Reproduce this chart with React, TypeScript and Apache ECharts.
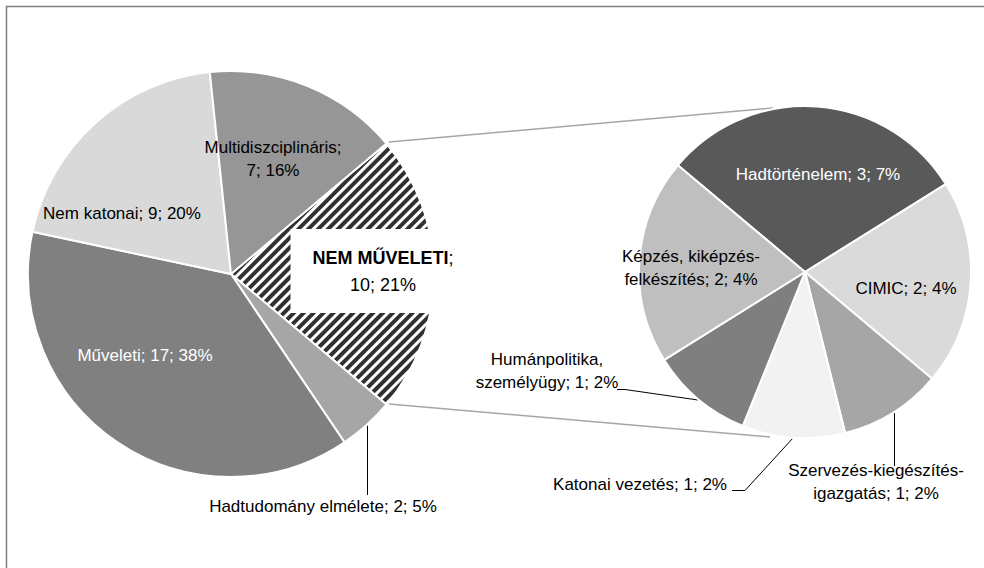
import React, { useEffect, useRef } from 'react';
import * as echarts from 'echarts';

// Main pie (clockwise from the split slice)
const mainNames = ['NEM MŰVELETI', 'Hadtudomány elmélete', 'Műveleti', 'Nem katonai', 'Multidiszciplináris'];
const mainValues = [10, 2, 17, 9, 7];
const mainPercents = [21, 5, 38, 20, 16];

// Secondary pie (breakdown of NEM MŰVELETI), clockwise from top
const subNames = [
  'Hadtörténelem',
  'CIMIC',
  'Szervezés-kiegészítés-\nigazgatás',
  'Katonai vezetés',
  'Humánpolitika,\nszemélyügy',
  'Képzés, kiképzés-\nfelkészítés',
];
const subValues = [3, 2, 1, 1, 1, 2];
const subPercents = [7, 4, 2, 2, 2, 4];

// styles
const mainColors = ['#ffffff', '#a6a6a6', '#808080', '#d9d9d9', '#969696'];
const subColors = ['#595959', '#dadada', '#a6a6a6', '#f2f2f2', '#7f7f7f', '#bfbfbf'];
const mainTextColors = ['#000', '#000', '#fff', '#000', '#000'];
const subTextColors = ['#fff', '#000', '#000', '#000', '#000', '#000'];
const mainOutside = [false, true, false, false, false];
const subOutside = [false, false, true, true, true, false];

const MAIN_C = [231, 274];
const MAIN_R = 203;
const SUB_C = [805, 272];
const SUB_R = 166;

const mainLabelPos = [[383, 271], [323, 506], [145, 355], [122, 213], [273, 159]];
const subLabelPos = [[818, 174], [906, 288], [876, 482], [640, 484], [547, 371], [691, 268]];
const mainLines: Record<number, number[][]> = {
  1: [[367.5, 425], [367.5, 460], [367.5, 495]],
};
const subLines: Record<number, number[][]> = {
  2: [[894.5, 413], [894.5, 440], [894.5, 466]],
  3: [[793, 438], [745, 490.5], [732, 490.5]],
  4: [[698, 400], [625, 389.5], [617, 389.5]],
};

const FONT = '"Liberation Sans", Arial, sans-serif';

export default function App() {
  const ref = useRef<HTMLDivElement>(null);
  useEffect(() => {
    if (!ref.current) return;
    const chart = echarts.init(ref.current, undefined, { renderer: 'svg' });

    const mainData = mainNames.map((n, i) => {
      const item: any = {
        name: n,
        value: mainValues[i],
        itemStyle: { color: mainColors[i] },
        label: {
          position: mainOutside[i] ? 'outside' : 'inside',
          color: mainTextColors[i],
        },
        labelLine: { show: mainOutside[i] },
      };
      if (i === 0) {
        item.itemStyle = {
          color: '#ffffff',
          decal: {
            symbol: 'rect',
            symbolSize: 1,
            color: '#303030',
            dashArrayX: [1, 0],
            dashArrayY: [3.4, 3],
            rotation: -Math.PI / 4,
          },
        };
        item.label = {
          position: 'inside',
          backgroundColor: '#ffffff',
          padding: [15, 22, 15, 22],
          formatter: `{b|${n}}{r|;}\n{r|${mainValues[i]}; ${mainPercents[i]}%}`,
          rich: {
            b: { fontFamily: FONT, fontSize: 18, fontWeight: 'bold', color: '#000', lineHeight: 27, align: 'center' },
            r: { fontFamily: FONT, fontSize: 18, color: '#000', lineHeight: 27, align: 'center' },
          },
        };
      }
      return item;
    });

    const subData = subNames.map((n, i) => ({
      name: n,
      value: subValues[i],
      itemStyle: { color: subColors[i] },
      label: {
        position: subOutside[i] ? 'outside' : 'inside',
        color: subTextColors[i],
      },
      labelLine: { show: subOutside[i] },
    }));

    const mainFmt = (p: any) => {
      const i = p.dataIndex;
      if (i === 4) return `${mainNames[i]};\n${mainValues[i]}; ${mainPercents[i]}%`;
      return `${mainNames[i]}; ${mainValues[i]}; ${mainPercents[i]}%`;
    };
    const subFmt = (p: any) => {
      const i = p.dataIndex;
      return `${subNames[i]}; ${subValues[i]}; ${subPercents[i]}%`;
    };

    const layout = (params: any) => {
      const s = params.seriesIndex;
      const i = params.dataIndex;
      const pos = s === 0 ? mainLabelPos[i] : subLabelPos[i];
      const lines = s === 0 ? mainLines[i] : subLines[i];
      const res: any = { x: pos[0], y: pos[1], align: 'center', verticalAlign: 'middle' };
      if (lines) res.labelLinePoints = lines;
      return res;
    };

    const baseLabel = {
      fontFamily: FONT,
      fontSize: 17,
      lineHeight: 23,
      align: 'center',
    };

    chart.setOption({
      animation: false,
      backgroundColor: '#ffffff',
      graphic: [
        {
          type: 'rect',
          shape: { x: 6.5, y: 6.5, width: 1200, height: 1200 },
          style: { fill: 'none', stroke: '#7f7f7f', lineWidth: 1.5 },
          silent: true,
        },
        {
          type: 'line',
          shape: { x1: 389, y1: 142, x2: 773, y2: 108 },
          style: { stroke: '#a5a5a5', lineWidth: 1.5 },
          silent: true,
        },
        {
          type: 'line',
          shape: { x1: 389, y1: 404, x2: 770, y2: 437 },
          style: { stroke: '#a5a5a5', lineWidth: 1.5 },
          silent: true,
        },
      ],
      series: [
        {
          type: 'pie',
          center: MAIN_C,
          radius: MAIN_R,
          startAngle: 40,
          clockwise: true,
          avoidLabelOverlap: false,
          data: mainData,
          itemStyle: { borderColor: '#ffffff', borderWidth: 2 },
          label: { ...baseLabel, formatter: mainFmt },
          labelLine: { lineStyle: { color: '#000000', width: 1, opacity: 1 }, length: 10, length2: 10 },
          labelLayout: layout,
          emphasis: { disabled: true },
        },
        {
          type: 'pie',
          center: SUB_C,
          radius: SUB_R,
          startAngle: 140,
          clockwise: true,
          avoidLabelOverlap: false,
          data: subData,
          itemStyle: { borderColor: '#ffffff', borderWidth: 2 },
          label: { ...baseLabel, formatter: subFmt },
          labelLine: { lineStyle: { color: '#000000', width: 1, opacity: 1 }, length: 10, length2: 10 },
          labelLayout: layout,
          emphasis: { disabled: true },
        },
      ],
    });
    return () => chart.dispose();
  }, []);
  return (
    <div
      ref={ref}
      style={{ position: 'fixed', left: 0, top: 0, width: 984, height: 568, background: '#fff' }}
    />
  );
}
